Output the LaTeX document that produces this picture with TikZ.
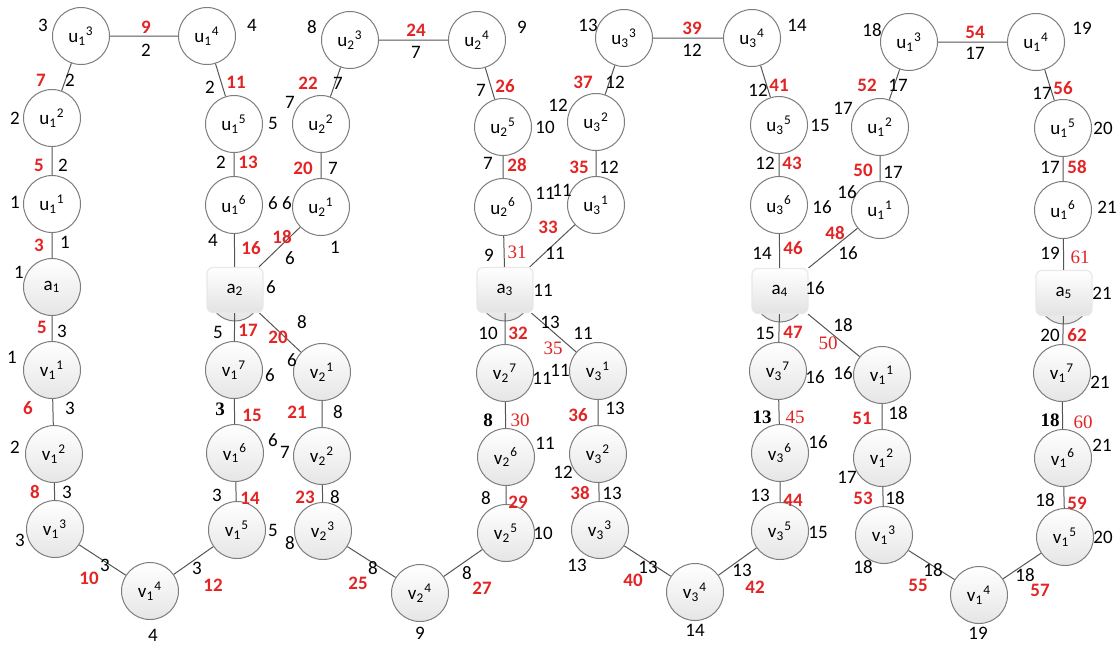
\documentclass[tikz,border=0pt]{standalone}
\usepackage{fontspec}
\setmainfont{Carlito}
\newfontfamily\serifnum{Liberation Serif}
\definecolor{numred}{RGB}{226,36,36}
\definecolor{edgegray}{RGB}{85,85,85}
\definecolor{ringgray}{RGB}{125,125,125}

\begin{document}
\begin{tikzpicture}[x=0.5pt, y=-0.5pt,
  unode/.style={circle, draw=ringgray, line width=0.5pt, fill=white, minimum size=28.5pt, inner sep=0pt, font=\fontsize{9.5}{11}\selectfont},
  vnode/.style={unode, top color=white, bottom color=black!10},
  abox/.style={rectangle, rounded corners=3pt, draw=black!9, line width=0.6pt, minimum width=28pt, minimum height=22.5pt, inner sep=0pt, top color=white, bottom color=black!11, font=\fontsize{9.5}{11}\selectfont},
  link/.style={draw=edgegray, line width=0.5pt},
  num/.style={inner sep=0pt, font=\fontsize{9.5}{11}\selectfont},
  rnum/.style={num, text=numred, font=\fontsize{9.5}{11}\selectfont\bfseries},
  snum/.style={num, font=\fontsize{9.5}{11}\selectfont\serifnum\bfseries},
  srnum/.style={num, text=numred, font=\fontsize{9.5}{11}\selectfont\serifnum},
]
  \useasboundingbox (0,0) rectangle (1117,645);
  % upper rings
  \foreach \nm/\x/\y/\i/\k in {
    u13/81/36/1/3, u14/207/36/1/4, u12/52/118/1/2, u11/52/204/1/1, u15/234/124/1/5, u16/234/205/1/6,
    u23/350/40/2/3, u24/477/40/2/4, u22/321/124/2/2, u21/321/207/2/1, u25/503/127/2/5, u26/503/207/2/6,
    u33/624/38/3/3, u34/752/38/3/4, u32/596/122/3/2, u31/596/205/3/1, u35/779/125/3/5, u36/779/205/3/6,
    u43/909/42/1/3, u44/1036/42/1/4, u42/880/127/1/2, u41/880/210/1/1, u45/1063/128/1/5, u46/1063/210/1/6}
    \node[unode] (\nm) at (\x,\y) {u\textsubscript{\i}\textsuperscript{\k}};
  % lower rings
  \foreach \nm/\x/\y/\i/\k in {
    v11/52/370/1/1, v12/54/454/1/2, v13/55/529/1/3, v14/150/591/1/4, v15/237/530/1/5, v16/235/453/1/6, v17/234/370/1/7,
    v21/322/372/2/1, v22/322/456/2/2, v23/323/531/2/3, v24/420/593/2/4, v25/506/533/2/5, v26/506/457/2/6, v27/505/373/2/7,
    v31/598/371/3/1, v32/598/454/3/2, v33/600/530/3/3, v34/695/592/3/4, v35/780/531/3/5, v36/780/453/3/6, v37/778/371/3/7,
    v41/882/375/1/1, v42/882/458/1/2, v43/884/535/1/3, v44/979/595/1/4, v45/1065/537/1/5, v46/1063/458/1/6, v47/1062/373/1/7}
    \node[vnode] (\nm) at (\x,\y) {v\textsubscript{\i}\textsuperscript{\k}};
  \node[vnode] (a1) at (52,287) {a\textsubscript{1}};
  \foreach \j/\x/\y in {2/235/290, 3/505/290, 4/780/291, 5/1064/293} {
    \node[vnode, minimum size=25pt] (r\j) at (\x,\y+6) {};
    \node[abox] (a\j) at (\x,\y) {a\textsubscript{\j}};
  }
  % links
  \foreach \c [evaluate=\c as \n using int(\c+1)] in {1,...,4}
    \draw[link] (a\c) -- (u\c1) -- (u\c2) -- (u\c3) -- (u\c4) -- (u\c5) -- (u\c6) -- (a\n)
      -- (v\c7) -- (v\c6) -- (v\c5) -- (v\c4) -- (v\c3) -- (v\c2) -- (v\c1) -- (a\c);
  % black numbers
  \foreach \t/\x/\y [count=\i] in {
    3/43/25, 4/252/25, 2/146/50, 2/70/80, 2/210/87, 2/15/118, 5/273/123, 2/63/165, 2/221/162, 1/15/202,
    6/273/203, 1/65/242, 4/213/240, 1/19/272, 6/271/287, 3/62/331, 5/218/332, 1/12/357, 6/270/375, 3/70/408,
    2/15/447, 6/273/440, 3/67/492, 3/217/495, 3/20/540, 5/273/530, 3/105/565, 3/197/568, 4/153/635,
    8/312/27, 7/416/52, 9/522/27, 7/338/83, 7/290/102, 7/481/90, 10/545/127, 7/333/168, 7/488/163, 6/287/203,
    11/545/193, 1/335/247, 6/290/258, 9/489/255, 11/543/290, 8/302/322, 10/488/333, 6/292/360, 11/542/378, 8/338/412,
    7/285/452, 11/545/443, 8/335/497, 8/486/498, 8/290/543, 10/543/533, 8/373/568, 8/467/573, 9/420/633,
    13/588/25, 12/692/50, 14/797/25, 12/615/82, 12/758/90, 12/558/105, 15/820/125, 12/609/167, 12/765/163, 11/562/190,
    16/822/207, 11/555/253, 14/762/253, 16/815/288, 13/550/322, 11/583/333, 11/560/370, 15/765/333, 16/815/377, 13/615/408,
    16/818/442, 12/563/472, 13/612/493, 13/760/495, 15/818/532, 13/577/565, 13/648/567, 13/742/570, 14/695/630,
    18/872/30, 17/975/53, 19/1082/28, 17/898/85, 17/1042/93, 17/843/108, 20/1103/128, 17/893/172, 17/1050/167, 16/847/192,
    21/1107/207, 16/848/253, 19/1050/253, 21/1102/293, 18/843/325, 20/1050/335, 16/843/373, 21/1100/382, 18/898/413, 21/1102/445,
    17/847/477, 18/895/498, 18/1045/500, 20/1103/537, 18/863/567, 18/933/570, 18/1025/575, 19/978/633}
    \node[num] (k\i) at (\x,\y) {\t};
  \foreach \t/\x/\y [count=\i] in {3/220/409, 8/488/420, 13/762/417, 18/1050/420}
    \node[snum] (b\i) at (\x,\y) {\t};
  % red numbers
  \foreach \t/\x/\y [count=\i] in {
    9/146/27, 7/41/80, 11/236/82, 5/39/165, 13/248/162, 3/39/245, 16/251/248, 18/282/237, 5/42/327, 17/248/330,
    20/278/337, 6/28/408, 15/252/415, 8/35/492, 14/250/498, 10/89/578, 12/213/585,
    24/416/30, 22/308/83, 26/505/86, 20/303/168, 28/517/165, 33/548/227, 32/518/333, 21/297/412, 23/305/497,
    29/518/502, 25/358/583, 27/482/588,
    39/692/28, 37/583/82, 41/779/85, 35/579/167, 43/792/163, 46/793/248, 48/835/233, 47/793/332, 36/578/415,
    38/580/493, 44/793/500, 40/633/580, 42/755/587,
    54/975/32, 52/867/85, 56/1063/88, 50/863/170, 58/1077/167, 62/1077/335, 51/862/418, 53/863/498, 59/1077/503,
    55/918/585, 57/1040/590}
    \node[rnum] (r\i) at (\x,\y) {\t};
  \foreach \t/\x/\y [count=\i] in {31/517/252, 30/520/420, 35/553/348, 45/795/417, 50/828/343, 60/1083/422, 61/1080/257}
    \node[srnum] (s\i) at (\x,\y) {\t};
\end{tikzpicture}
\end{document}
